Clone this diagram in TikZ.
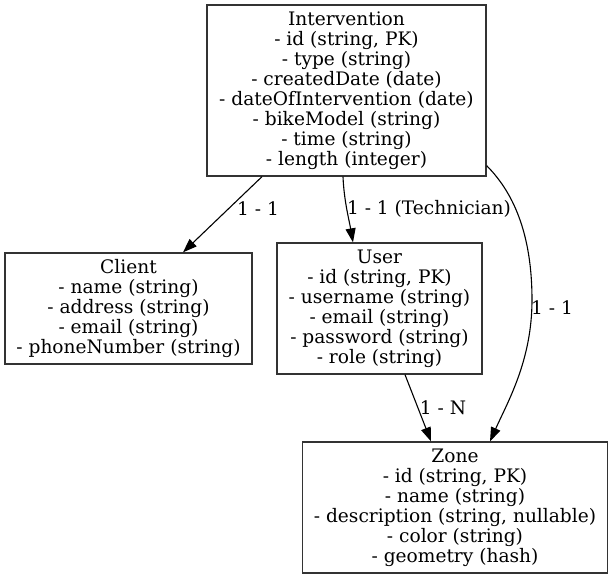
\documentclass[tikz,border=0pt]{standalone}
\usepackage{fontspec}
\setmainfont{DejaVu Serif}
\usetikzlibrary{arrows.meta}

\begin{document}
\begin{tikzpicture}[x=1pt, y=-1pt,
    every node/.append style={align=center, font=\fontsize{18.6}{20}\selectfont},
    entity/.style={draw=black!80, line width=1.3pt, inner sep=0pt},
    card/.style={inner sep=0pt},
    link/.style={line width=1.1pt, -{Triangle[length=14pt, width=10pt]}}]
    \useasboundingbox (0,0) rectangle (614,579);
    % entities
    \node[entity, minimum width=279pt, minimum height=171pt] (intervention) at (346.5,90.5)
      {Intervention \\ - id (string, PK) \\ - type (string) \\ - createdDate (date) \\
       - dateOfIntervention (date) \\ - bikeModel (string) \\ - time (string) \\ - length (integer)};
    \node[entity, minimum width=247pt, minimum height=111pt] (client) at (128.5,308.5)
      {Client \\ - name (string) \\ - address (string) \\ - email (string) \\ - phoneNumber (string)};
    \node[entity, minimum width=205pt, minimum height=131pt] (user) at (379.5,308.5)
      {User \\ - id (string, PK) \\ - username (string) \\ - email (string) \\
       - password (string) \\ - role (string)};
    \node[entity, minimum width=305pt, minimum height=131pt] (zone) at (455,507.5)
      {Zone \\ - id (string, PK) \\ - name (string) \\ - description (string, nullable) \\
       - color (string) \\ - geometry (hash)};
    \coordinate (zbend) at (532,300);
    % relations
    \draw[link] ([xshift=-84.5pt]intervention.south) -- ([xshift=54.5pt]client.north);
    \draw[link] ([xshift=-3.5pt]intervention.south) .. controls +(1,24) and +(-4,-23) .. ([xshift=-26.5pt]user.north);
    \draw[link] ([yshift=11pt]intervention.south east) .. controls +(30,30) and +(0,-60) .. (zbend)
      .. controls +(0,60) and +(18,-40) .. ([xshift=35pt]zone.north);
    \draw[link] ([xshift=25.5pt]user.south) -- ([xshift=-24pt]zone.north);
    % cardinalities
    \node[card] (c1) at (258,209) {1 - 1};
    \node[card] (c2) at (429,209) {1 - 1 (Technician)};
    \node[card] (c3) at (552,308) {1 - 1};
    \node[card] (c4) at (443,408) {1 - N};
\end{tikzpicture}
\end{document}
